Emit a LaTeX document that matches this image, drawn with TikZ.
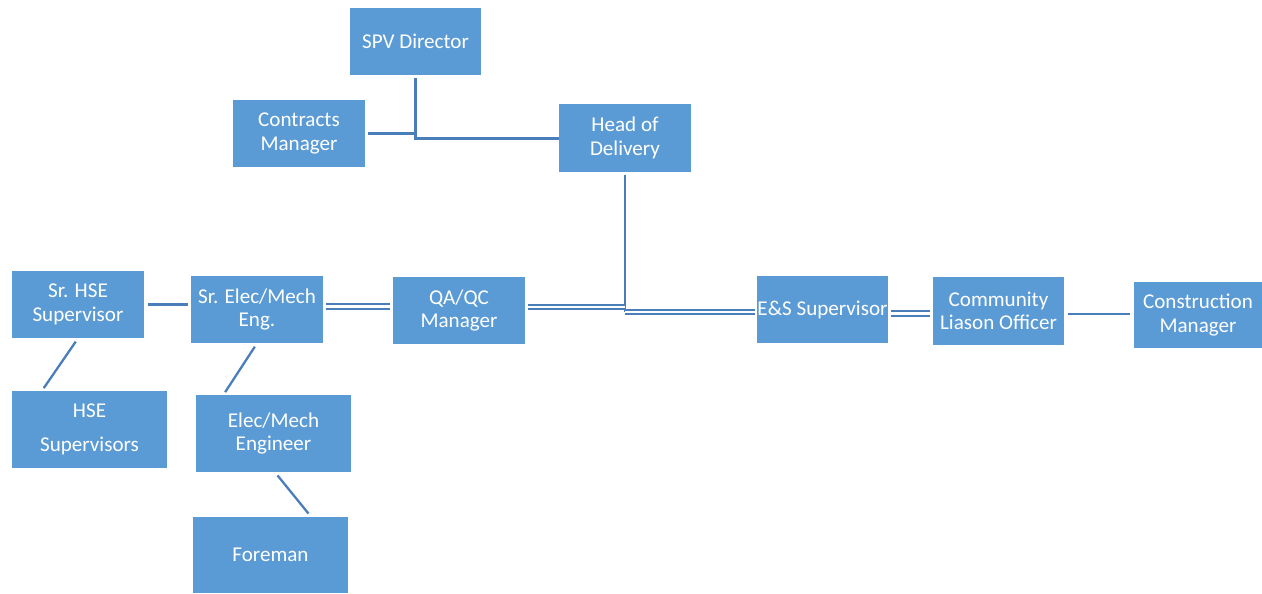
\documentclass[tikz,border=0pt]{standalone}
\usepackage{fontspec}
\setmainfont{Carlito}
\definecolor{boxblue}{HTML}{5B9BD5}
\definecolor{lineblue}{HTML}{4A7EBB}
\tikzset{
  post/.style={fill=boxblue, text=white, align=center, inner sep=0pt,
    font=\fontsize{12}{13.3}\selectfont},
  link/.style={draw=lineblue, line width=1.3pt},
  dbl/.style={draw=lineblue, line width=1pt, double=white, double distance=1.5pt}
}
\begin{document}
\begin{tikzpicture}
[x=0.02cm, y=-0.02cm]
\useasboundingbox (0,0) rectangle (1262,594);
% top
\node[post, minimum width=2.62cm, minimum height=1.34cm] (spv) at (415.5,41.5) {SPV Director};
\node[post, minimum width=2.64cm, minimum height=1.34cm] (contracts) at (299,133.5) {Contracts\\Manager};
\node[post, minimum width=2.64cm, minimum height=1.36cm] (head) at (625,138) {Head of\\Delivery};
% middle row
\node[post, minimum width=2.64cm, minimum height=1.34cm] (srhse) at (78,304.5) {Sr. HSE\\Supervisor};
\node[post, minimum width=2.64cm, minimum height=1.34cm] (srelec) at (257,309.5) {Sr. Elec/Mech\\Eng.};
\node[post, minimum width=2.64cm, minimum height=1.34cm] (qaqc) at (459,310.5) {QA/QC\\Manager};
\node[post, minimum width=2.62cm, minimum height=1.34cm] (es) at (822.5,309.5) {E\&S Supervisor};
\node[post, minimum width=2.62cm, minimum height=1.36cm] (community) at (998.5,311) {Community\\Liason Officer};
\node[post, minimum width=2.56cm, minimum height=1.32cm] (construction) at (1198,315) {Construction\\Manager};
% bottom
\node[post, minimum width=3.1cm, minimum height=1.54cm, font=\fontsize{12}{19.3}\selectfont] (hsesup) at (89.5,429.5) {HSE\\Supervisors};
\node[post, minimum width=3.1cm, minimum height=1.54cm] (elecmech) at (273.5,433.5) {Elec/Mech\\Engineer};
\node[post, minimum width=3.1cm, minimum height=1.52cm] (foreman) at (270.5,555) {Foreman};
% links
\coordinate (jn) at (625,312);
\draw[link, shorten <=0.06cm] (spv.south) |- ([yshift=-0.01cm]head.west);
\draw[link, shorten <=0.06cm] (contracts.east) -- (contracts.east -| spv.south);
\draw[link, shorten <=0.06cm] (head.south) -- (jn);
\draw[dbl, shorten >=0.04cm] (jn) -- (jn -| es.west);
\draw[dbl, shorten <=0.06cm] ([yshift=0.07cm]qaqc.east) -- ([yshift=0.07cm]qaqc.east -| jn);
\draw[link, shorten <=0.08cm, shorten >=0.06cm] (srhse.east) -- (srhse.east -| srelec.west);
\draw[dbl, shorten <=0.06cm, shorten >=0.06cm] ([yshift=0.06cm]srelec.east) -- ([yshift=0.06cm]srelec.east -| qaqc.west);
\draw[dbl, shorten <=0.06cm, shorten >=0.06cm] ([yshift=-0.08cm]es.east) -- ([yshift=-0.08cm]es.east -| community.west);
\draw[link, shorten <=0.08cm, shorten >=0.08cm] ([yshift=-0.06cm]community.east) -- ([yshift=-0.06cm]community.east -| construction.west);
\draw[link, shorten <=0.08cm, shorten >=0.06cm] (srhse.south) -- ([xshift=-0.95cm]hsesup.north);
\draw[link, shorten <=0.08cm, shorten >=0.06cm] (srelec.south) -- ([xshift=-1.0cm]elecmech.north);
\draw[link, shorten <=0.08cm, shorten >=0.08cm] ([xshift=0.03cm]elecmech.south) -- ([xshift=0.81cm]foreman.north);
\end{tikzpicture}
\end{document}
